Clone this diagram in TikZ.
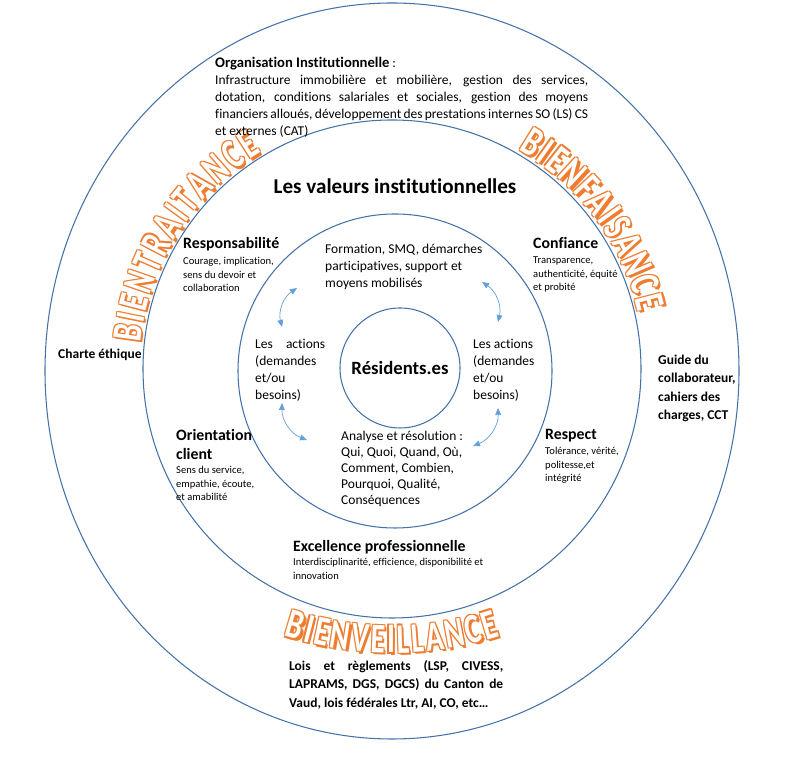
\documentclass[tikz,border=0pt]{standalone}
\usepackage{fontspec}
\setmainfont{Carlito}[Ligatures=NoCommon]
\newfontfamily\bannerfont{Carlito}[FakeStretch=0.7]
\usepackage{tikz}
\usetikzlibrary{arrows.meta,decorations.text}
\definecolor{ringblue}{RGB}{68,114,168}
\definecolor{linkblue}{RGB}{100,160,215}
\definecolor{wordorange}{RGB}{237,125,49}
% outlined word along an arc: orange copies around, white copy on top
\newcommand\bannerword[2]{%
  \foreach \dx/\dy in {-1.1/-1.1,1.1/1.1,-1.1/1.1,1.1/-1.1,2.4/-2.4}
    {\path[banner=#1, shift={(\dx,\dy)}] #2;}
  \path[banner=#1, bannerface] #2;}

\begin{document}
\begin{tikzpicture}[x=0.3mm, y=0.3mm,
  ring/.style={draw=ringblue, line width=0.9pt},
  txt/.style={inner sep=0pt, anchor=north west, align=left},
  head/.style={txt, font=\fontsize{13.5}{16.5}\selectfont\bfseries},
  desc/.style={txt, font=\fontsize{9}{11.5}\selectfont},
  body/.style={txt, font=\fontsize{11.5}{14.5}\selectfont},
  link/.style={{Triangle[length=6pt,width=5pt]}-{Triangle[length=6pt,width=5pt]}, linkblue, line width=0.6pt},
  banner/.style={decorate, decoration={text along path, text align=fit to path,
    text color=wordorange, text={|\bannerfont\bfseries\fontsize{36}{36}\selectfont|#1}}},
  bannerface/.style={decoration={text color=white}}]

\useasboundingbox (0,0) rectangle (800,760);

% Rings
\draw[ring] (392,389) ellipse [x radius=347, y radius=368];
\draw[ring] (392,391) circle [radius=249];
\draw[ring] (395,389) circle [radius=157];

% Orange words along the rings
\bannerword{BIENTRAITANCE}{(392,391) ++(174:253) arc [start angle=174, end angle=121, radius=253]}
\bannerword{BIENFAISANCE}{(392,391) ++(60:253) arc [start angle=60, end angle=13, radius=253]}
\bannerword{BIENVEILLANCE}{(392,457) ++(252:350) arc [start angle=252, end angle=288, radius=350]}

% Outer ring
\node[txt, text width=111.9mm, align=justify, font=\fontsize{11.5}{14.5}\selectfont] (org) at (215,703)
  {\textbf{\fontsize{12.5}{14.5}\selectfont Organisation Institutionnelle} :\\
   Infrastructure immobilière et mobilière, gestion des services,\linebreak
   dotation, conditions salariales et sociales, gestion des moyens\linebreak
   financiers alloués, développement des prestations internes SO (LS) CS\linebreak
   et externes (CAT)};
\node[inner sep=0pt, anchor=west, font=\fontsize{11.5}{13}\selectfont\bfseries] (charte) at (58,405) {Charte éthique};
\node[txt, font=\fontsize{11.5}{15.6}\selectfont\bfseries] (guide) at (658,405) {Guide du\\collaborateur,\\cahiers des\\charges, CCT};
\node[txt, text width=64.2mm, align=justify, font=\fontsize{11.5}{15.8}\selectfont\bfseries] (lois) at (289,100)
  {Lois et règlements (LSP, CIVESS,\linebreak
   LAPRAMS, DGS, DGCS) du Canton de\linebreak
   Vaud, lois fédérales Ltr, AI, CO, etc…};

% Values
\node[inner sep=0pt, font=\fontsize{18}{20}\selectfont\bfseries] (valeurs) at (395,574) {Les valeurs institutionnelles};
\node[head] (resp) at (183,523) {Responsabilité};
\node[desc] (respd) at (183,503) {Courage, implication,\\sens du devoir et\\collaboration};
\node[head] (conf) at (533,523) {Confiance};
\node[desc] (confd) at (533,503) {Transparence,\\authenticité, équité\\et probité};
\node[head] (orient) at (176,331) {Orientation\\client};
\node[desc] (orientd) at (176,294) {Sens du service,\\empathie, écoute,\\et amabilité};
\node[head] (respect) at (545,331) {Respect};
\node[desc] (respectd) at (545,313) {Tolérance, vérité,\\politesse,et\\intégrité};
\node[head] (excel) at (293,220) {Excellence professionnelle};
\node[desc] (exceld) at (293,202) {Interdisciplinarité, efficience, disponibilité et\\innovation};

% Inner ring
\node[body] (form) at (325,516) {Formation, SMQ, démarches\\participatives, support et\\moyens mobilisés};
\node[body, text width=21mm] (actl) at (255,421) {Les\hfill actions\\(demandes\\et/ou\\besoins)};
\node[body] (actr) at (473,421) {Les actions\\(demandes\\et/ou\\besoins)};
\node[txt, font=\fontsize{11.5}{13.7}\selectfont] (anal) at (341,329)
  {Analyse et résolution :\\Qui, Quoi, Quand, Où,\\Comment, Combien,\\Pourquoi, Qualité,\\Conséquences};
\node[circle, draw=ringblue, line width=0.9pt, minimum size=36mm, inner sep=0pt,
  font=\fontsize{16}{18}\selectfont\bfseries] (res) at (400,392) {Résidents.es};

% Cycle arrows
\coordinate (tl1) at (282,433); \coordinate (tl2) at (297,472);
\coordinate (tr1) at (482,478); \coordinate (tr2) at (498,438);
\coordinate (bl1) at (282,357); \coordinate (bl2) at (307,320);
\coordinate (br1) at (498,352); \coordinate (br2) at (473,314);
\draw[link] (tl1) to[bend left=35] (tl2);
\draw[link] (tr1) to[bend left=35] (tr2);
\draw[link] (bl1) to[bend right=35] (bl2);
\draw[link] (br1) to[bend left=35] (br2);

\end{tikzpicture}
\end{document}
